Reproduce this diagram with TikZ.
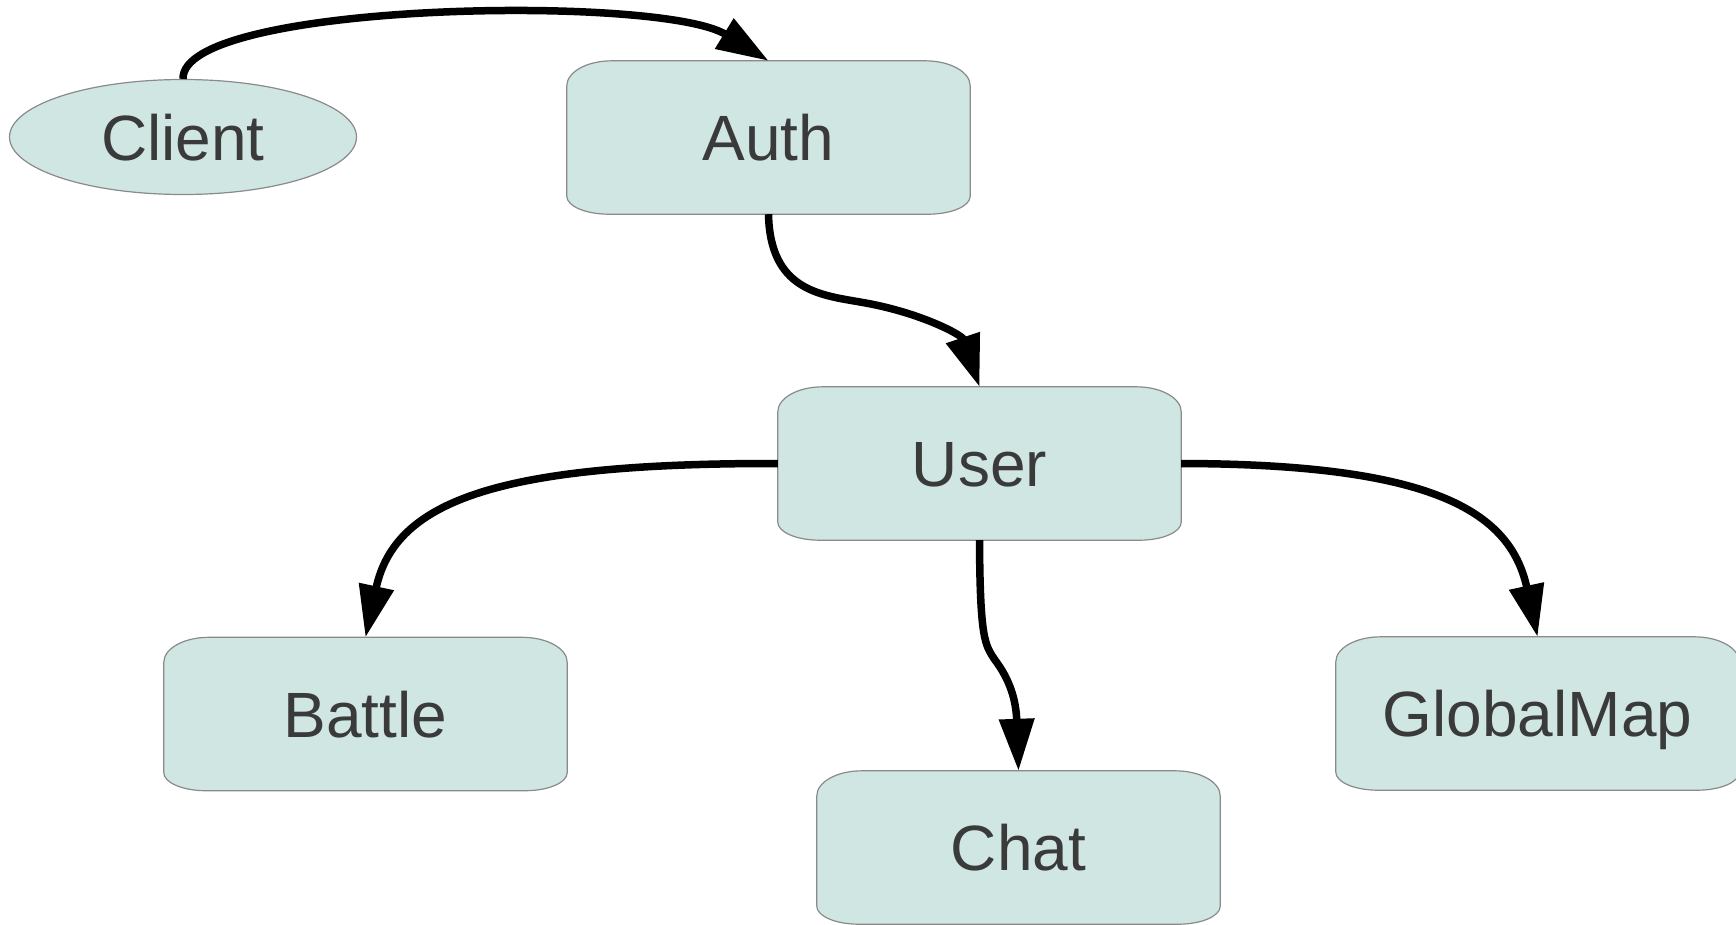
\documentclass[tikz,border=0pt]{standalone}
\usepackage{fontspec}
\setmainfont{Liberation Sans}
\usetikzlibrary{arrows.meta,backgrounds,calc,shapes.geometric}
\definecolor{boxfill}{HTML}{CFE6E3}
\definecolor{boxline}{HTML}{8A8A8A}
\definecolor{txt}{HTML}{3A3A3A}
\tikzset{
  lbl/.style={text=txt,font=\fontsize{64pt}{70pt}\selectfont,text height=46pt,text depth=0pt,inner sep=0pt},
  tbox/.style={lbl,minimum width=403pt,minimum height=153pt},
  ellnode/.style={lbl,ellipse,draw=boxline,fill=boxfill,line width=1.2pt,minimum width=347pt,minimum height=115pt},
  boxshape/.style={draw=boxline,fill=boxfill,line width=1.2pt},
  edge/.style={line width=7.5pt,-{Triangle[length=52pt,width=34pt]}},
}
\newcommand\cornerbox[1]{%
  \path[boxshape] ($(#1.north west)+(45,0)$) -- ($(#1.north east)+(-45,0)$)
   .. controls ($(#1.north east)+(-20.1,0)$) and ($(#1.north east)+(0,11.2)$) .. ($(#1.north east)+(0,25)$)
   -- ($(#1.south east)+(0,-18)$)
   .. controls ($(#1.south east)+(0,-8.06)$) and ($(#1.south east)+(-18.8,0)$) .. ($(#1.south east)+(-42,0)$)
   -- ($(#1.south west)+(42,0)$)
   .. controls ($(#1.south west)+(18.8,0)$) and ($(#1.south west)+(0,-8.06)$) .. ($(#1.south west)+(0,-18)$)
   -- ($(#1.north west)+(0,25)$)
   .. controls ($(#1.north west)+(0,11.2)$) and ($(#1.north west)+(20.1,0)$) .. cycle;}
\begin{document}
\begin{tikzpicture}[x=1pt,y=-1pt]
\useasboundingbox (0,0) rectangle (1736,924);
\clip (0,0) rectangle (1736,924);
\node[ellnode] (client) at (183,137) {Client};
\node[tbox] (auth) at (768.5,137.5) {Auth};
\node[tbox] (user) at (979.5,463.5) {User};
\node[tbox] (battle) at (365.5,714) {Battle};
\node[tbox] (chat) at (1018.5,847.5) {Chat};
\node[tbox] (gmap) at (1537.5,713.5) {GlobalMap};
\begin{pgfonlayer}{background}
\cornerbox{auth}
\cornerbox{user}
\cornerbox{battle}
\cornerbox{chat}
\cornerbox{gmap}
\end{pgfonlayer}
\draw[edge] (client.north) .. controls (181,2) and (660,-6) .. (auth.north);
\draw[edge] (auth.south) .. controls (770,290) and (820,295) .. (860,302)
  .. controls (920,312) and (962,335) .. (user.north);
\draw[edge] (user.west) .. controls (500,463) and (395,500) .. (battle.north);
\draw[edge] (user.south) .. controls (980,640) and (985,645) .. (995,660)
  .. controls (1010,680) and (1016,700) .. (chat.north);
\draw[edge] (user.east) .. controls (1430,464) and (1510,510) .. (gmap.north);
\end{tikzpicture}
\end{document}
